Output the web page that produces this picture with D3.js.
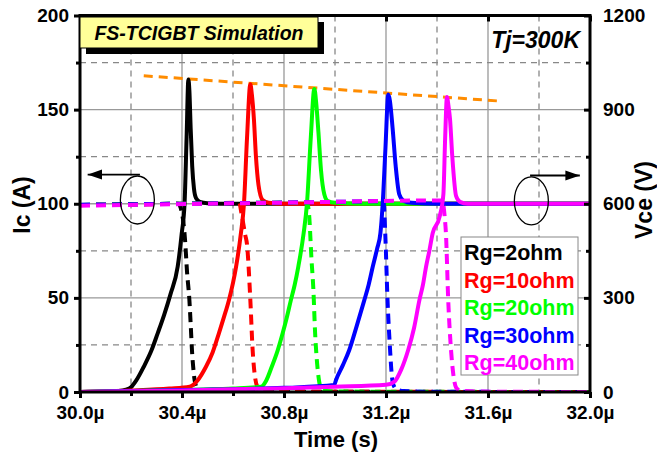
<!DOCTYPE html>
<html><head><meta charset="utf-8">
<script src="https://cdn.jsdelivr.net/npm/d3@7"></script>
<style>
body{margin:0;background:#fff;}
text{font-family:Arial,"Liberation Sans",sans-serif;font-weight:bold;}
</style></head>
<body><svg id="c" width="657" height="456"></svg>
<script>
// ---------- data (time in µs, Ic in A, Vce in V) ----------
const seriesNames = ["Rg=2ohm","Rg=10ohm","Rg=20ohm","Rg=30ohm","Rg=40ohm"];
const seriesColors = ["#000000","#ff0000","#00ff00","#0000ff","#ff00ff"];

const tIc2  = [30.0,30.10,30.15,30.18,30.20,30.22,30.25,30.28,30.305,30.33,30.355,30.383,30.399,30.41,30.418,30.425,30.429,30.434,30.44,30.447,30.455,30.47,30.5,30.6,32.0];
const ic2   = [0,0.2,0.5,1.2,2.5,6,13.4,22,31.3,41,52,66.5,84.3,100,135,166,160,140,120,108,103,101,100.3,100,100];
const tV2   = [30.0,30.2,30.385,30.40,30.412,30.42,30.429,30.435,30.439,30.445,30.45,30.46,30.48,30.55,32.0];
const vce2  = [596,598,600,570,484,380,293,200,134,70,35,12,4,1,0];

const tIc10 = [30.0,30.2,30.35,30.43,30.46,30.494,30.52,30.545,30.565,30.584,30.60,30.612,30.631,30.643,30.655,30.668,30.674,30.682,30.69,30.70,30.716,30.74,30.8,32.0];
const ic10  = [0,0.8,1.8,2.8,6,13.4,21,31.3,40,48.8,58,66.5,84.3,100,135,163.5,158,145,125,110,102,100.5,100,100];
const tV10  = [30.0,30.4,30.625,30.632,30.648,30.655,30.668,30.677,30.686,30.695,30.71,30.75,32.0];
const vce10 = [596,600,603,575,500,470,293,134,50,18,5,1.5,0];

const tIc20 = [30.0,30.3,30.6,30.71,30.73,30.752,30.775,30.795,30.81,30.827,30.842,30.856,30.877,30.89,30.905,30.919,30.926,30.935,30.945,30.958,30.971,31.0,31.1,32.0];
const ic20  = [0,0.8,1.8,2.8,6,13.4,22,31.3,39,48.8,57,66.5,84.3,100,135,161,154,138,118,105,101.5,100.5,100,100];
const tV20  = [30.0,30.5,30.89,30.898,30.908,30.915,30.922,30.93,30.938,30.945,30.96,31.0,32.0];
const vce20 = [596,601,604,570,420,330,188,90,33,12,4,1.5,0];

const tIc30 = [30.0,30.4,30.8,30.997,31.004,31.03,31.056,31.085,31.115,31.132,31.148,31.165,31.178,31.187,31.198,31.209,31.215,31.226,31.238,31.252,31.27,31.3,31.4,32.0];
const ic30  = [0,1,2.2,3.7,6.4,14,22.3,35,48.8,57,66.5,76,84.3,100,130,158,155,140,120,105,101.5,100.5,100,100];
const tV30  = [30.0,30.6,31.0,31.19,31.197,31.206,31.216,31.222,31.228,31.24,31.27,31.35,32.0];
const vce30 = [597,602,606,608,506,293,134,60,25,10,3,1,0];

const tIc40 = [30.0,30.4,30.8,31.0,31.2,31.233,31.26,31.287,31.31,31.331,31.345,31.357,31.37,31.383,31.41,31.425,31.432,31.439,31.445,31.451,31.46,31.475,31.49,31.52,32.0];
const ic40  = [0,0.8,2,2.8,3.8,5.5,12,22.3,34,48.8,57,66.5,75,84.3,93,105,135,156.7,152,145,125,104,101,100,100];
const tV40  = [30.0,30.5,31.0,31.3,31.42,31.43,31.435,31.444,31.455,31.465,31.475,31.49,31.55,32.0];
const vce40 = [594,600,606,610,610,560,506,293,134,50,14,5,1.5,0];

const peakLineT = [30.25,31.65];
const peakLineI = [168,154.5];

const xTickLabels = ["30.0µ","30.4µ","30.8µ","31.2µ","31.6µ","32.0µ"];
const xTickVals = [30.0,30.4,30.8,31.2,31.6,32.0];
const yLeftTicks = [0,50,100,150,200];
const yRightTicks = [0,300,600,900,1200];

// ---------- layout ----------
const svg = d3.select("#c");
const L=80, R=590, T=15.5, B=392;
const x = d3.scaleLinear().domain([30,32]).range([L,R]);
const yI = d3.scaleLinear().domain([0,200]).range([B,T]);
const yV = d3.scaleLinear().domain([0,1200]).range([B,T]);

svg.append("defs").append("clipPath").attr("id","clip")
  .append("rect").attr("x",L).attr("y",T).attr("width",R-L).attr("height",B-T);

// grid
const g = svg.append("g");
d3.range(30.2,31.9,0.2).forEach((t,i)=>{
  const major = (i%2===1);
  g.append("line").attr("x1",x(t)).attr("x2",x(t)).attr("y1",T).attr("y2",B)
   .attr("stroke",major?"#999":"#888").attr("stroke-width",1.3)
   .attr("stroke-dasharray",major?null:"6,5");
});
d3.range(25,200,25).forEach(v=>{
  const major = (v%50===0);
  g.append("line").attr("x1",L).attr("x2",R).attr("y1",yI(v)).attr("y2",yI(v))
   .attr("stroke",major?"#999":"#888").attr("stroke-width",1.3)
   .attr("stroke-dasharray",major?null:"6,5");
});

// orange peak line
const plot = svg.append("g").attr("clip-path","url(#clip)");
plot.append("path").datum(peakLineT.map((t,i)=>[t,peakLineI[i]]))
  .attr("d",d3.line().x(d=>x(d[0])).y(d=>yI(d[1])))
  .attr("stroke","#ff8c00").attr("stroke-width",3).attr("fill","none").attr("stroke-dasharray","9,6");

const icData = [[tIc2,ic2],[tIc10,ic10],[tIc20,ic20],[tIc30,ic30],[tIc40,ic40]];
const vData  = [[tV2,vce2],[tV10,vce10],[tV20,vce20],[tV30,vce30],[tV40,vce40]];
const lineI = d3.line().x(d=>x(d[0])).y(d=>yI(d[1])).curve(d3.curveMonotoneX);
const lineV = d3.line().x(d=>x(d[0])).y(d=>yV(d[1])).curve(d3.curveMonotoneX);

icData.forEach((s,k)=>{
  plot.append("path").datum(s[0].map((t,i)=>[t,s[1][i]]))
    .attr("d",lineI).attr("fill","none").attr("stroke",seriesColors[k])
    .attr("stroke-width",4).attr("stroke-linejoin","round");
  const v = vData[k];
  plot.append("path").datum(v[0].map((t,i)=>[t,v[1][i]]))
    .attr("d",lineV).attr("fill","none").attr("stroke",seriesColors[k])
    .attr("stroke-width",4).attr("stroke-dasharray","10,6");
});

// axes
const fs = "19px";
const axL = d3.axisLeft(yI).tickValues(yLeftTicks).tickSize(6).tickPadding(5);
const axLm = d3.axisLeft(yI).tickValues([25,75,125,175]).tickSize(4).tickFormat("");
const axR = d3.axisRight(yV).tickValues(yRightTicks).tickSize(-6).tickPadding(13).tickFormat(d3.format("d"));
const axRm = d3.axisRight(yV).tickValues([150,450,750,1050]).tickSize(-4).tickFormat("");
const axB = d3.axisBottom(x).tickValues(xTickVals).tickSize(6).tickPadding(8)
  .tickFormat((d,i)=>xTickLabels[i]);
const axBm = d3.axisBottom(x).tickValues([30.2,30.6,31.0,31.4,31.8]).tickSize(4).tickFormat("");
const axT = d3.axisTop(x).tickValues(xTickVals).tickSize(-6).tickFormat("");

function style(sel){
  sel.select(".domain").remove();
  sel.selectAll(".tick line").attr("stroke","#000").attr("stroke-width",3);
  sel.selectAll(".tick text").attr("fill","#000").style("font-size",fs).style("font-weight","bold")
    .style("font-family","Arial, 'Liberation Sans', sans-serif");
}
style(svg.append("g").attr("transform",`translate(${L},0)`).call(axL));
style(svg.append("g").attr("transform",`translate(${L},0)`).call(axLm));
style(svg.append("g").attr("transform",`translate(${R},0)`).call(axR));
style(svg.append("g").attr("transform",`translate(${R},0)`).call(axRm));
style(svg.append("g").attr("transform",`translate(0,${B})`).call(axB));
style(svg.append("g").attr("transform",`translate(0,${B})`).call(axBm));
style(svg.append("g").attr("transform",`translate(0,${T})`).call(axT));

// frame
svg.append("rect").attr("x",L).attr("y",T).attr("width",R-L).attr("height",B-T)
  .attr("fill","none").attr("stroke","#000").attr("stroke-width",3);

// axis titles
svg.append("text").attr("x",336).attr("y",447).attr("text-anchor","middle")
  .style("font-size","22px").text("Time (s)");
svg.append("text").attr("transform","translate(30,205) rotate(-90)").attr("text-anchor","middle")
  .style("font-size","23px").text("Ic (A)");
svg.append("text").attr("transform","translate(652,200) rotate(-90)").attr("text-anchor","middle")
  .style("font-size","23px").text("Vce (V)");

// title box
svg.append("rect").attr("x",86).attr("y",22).attr("width",238).attr("height",32).attr("fill","#000");
svg.append("rect").attr("x",80).attr("y",17).attr("width",238).attr("height",31)
  .attr("fill","#ffff99").attr("stroke","#000").attr("stroke-width",1);
svg.append("text").attr("x",199).attr("y",39.5).attr("text-anchor","middle")
  .style("font-size","19.5px").style("font-style","italic").text("FS-TCIGBT Simulation");
svg.append("text").attr("x",580).attr("y",48).attr("text-anchor","end")
  .style("font-size","23px").style("font-style","italic").text("Tj=300K");

// annotations: ellipses + arrows
const defs = svg.select("defs");
defs.append("marker").attr("id","ah").attr("viewBox","0 0 10 10").attr("refX",10).attr("refY",5)
  .attr("markerWidth",8).attr("markerHeight",8).attr("orient","auto-start-reverse")
  .append("path").attr("d","M0,1.5 L10,5 L0,8.5 Z").attr("fill","#000");
svg.append("ellipse").attr("cx",x(30.225)).attr("cy",yI(102)).attr("rx",17).attr("ry",24)
  .attr("fill","none").attr("stroke","#000").attr("stroke-width",1.3);
svg.append("line").attr("x1",x(30.235)).attr("y1",yI(115.5)).attr("x2",x(30.03)).attr("y2",yI(115.5))
  .attr("stroke","#000").attr("stroke-width",1.8).attr("marker-end","url(#ah)");
svg.append("ellipse").attr("cx",x(31.77)).attr("cy",yI(101.5)).attr("rx",17).attr("ry",24)
  .attr("fill","none").attr("stroke","#000").attr("stroke-width",1.3);
svg.append("line").attr("x1",x(31.765)).attr("y1",yI(115)).attr("x2",x(31.96)).attr("y2",yI(115))
  .attr("stroke","#000").attr("stroke-width",1.8).attr("marker-end","url(#ah)");

// legend
svg.append("rect").attr("x",461).attr("y",237).attr("width",117).attr("height",138)
  .attr("fill","#fff").attr("stroke","#888").attr("stroke-width",1);
seriesNames.forEach((n,i)=>{
  svg.append("text").attr("x",464).attr("y",260+i*27.5).attr("fill",seriesColors[i])
    .style("font-size","21.5px").text(n);
});
</script></body></html>
